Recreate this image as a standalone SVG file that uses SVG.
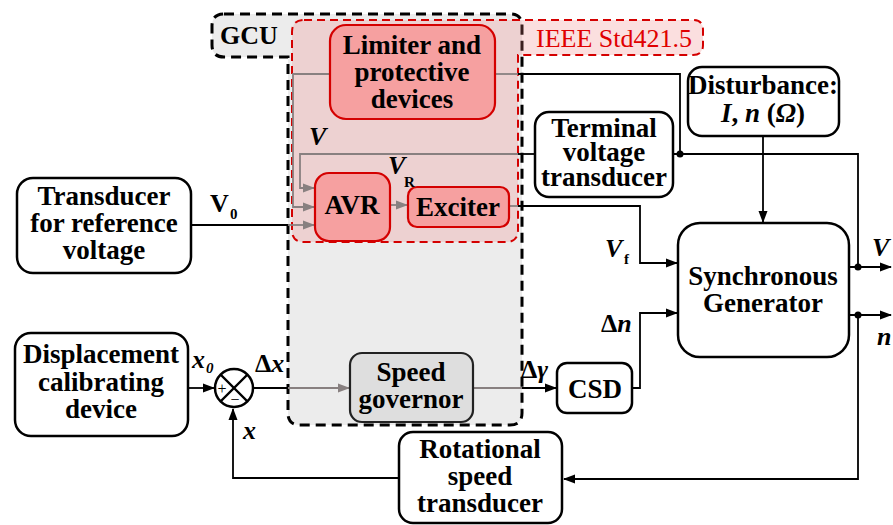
<svg xmlns="http://www.w3.org/2000/svg" width="893" height="525" viewBox="0 0 893 525">
  <style>
    .box { fill: #ffffff; stroke: #000; stroke-width: 2.5; }
    .rbox { fill: #f6a0a0; stroke: #d40000; stroke-width: 2.2; }
    .gbox { fill: #dedede; stroke: #222; stroke-width: 2.2; }
    .t { font-family: "Liberation Serif", "Times New Roman", Tinos, "DejaVu Serif", serif; font-weight: bold; font-size: 27px; fill: #000; text-anchor: middle; }
    .lab { font-family: "Liberation Serif", "Times New Roman", Tinos, "DejaVu Serif", serif; font-weight: bold; font-size: 26px; fill: #000; }
    .it { font-style: italic; }
    .sub { font-size: 15px; }
    .w { fill: none; stroke: #000; stroke-width: 1.8; }
    .g { fill: none; stroke: #888080; stroke-width: 1.8; }
  </style>
  <defs>
    <marker id="ab" markerUnits="userSpaceOnUse" markerWidth="12" markerHeight="10" refX="11" refY="5" orient="auto">
      <path d="M0,0.5 L12,5 L0,9.5 Z" fill="#000"/>
    </marker>
    <marker id="ag" markerUnits="userSpaceOnUse" markerWidth="12" markerHeight="10" refX="11" refY="5" orient="auto">
      <path d="M0,0.5 L12,5 L0,9.5 Z" fill="#888080"/>
    </marker>
  </defs>

  <!-- GCU region -->
  <g id="gcu">
    <path d="M224,14 H510 Q522,14 522,26 V413 Q522,425 510,425 H300 Q288,425 288,413 V57 H224 Q212,57 212,45 V26 Q212,14 224,14 Z" fill="#ececec" stroke="#000" stroke-width="3" stroke-dasharray="10,6"/>
    <text class="lab" x="220" y="44" font-size="27">GCU</text>
  </g>

  <!-- IEEE Std421.5 excitation region -->
  <g id="ieee">
    <path d="M304,20 H693 Q703,20 703,30 V45 Q703,55 693,55 H518 V230 Q518,242 506,242 H304 Q292,242 292,230 V32 Q292,20 304,20 Z" fill="#f08080" fill-opacity="0.25" stroke="#d40000" stroke-width="2" stroke-dasharray="8,5"/>
    <text x="536" y="47" style="font-family: 'Liberation Serif', 'Times New Roman', Tinos, 'DejaVu Serif', serif; font-size: 26px; fill: #e00000;">IEEE Std421.5</text>
  </g>

  <!-- connectors -->
  <g id="connectors">
    <path class="w" d="M191,225 H288"/>
    <path class="g" d="M288,225 H314" marker-end="url(#ag)"/>
    <path class="g" d="M330,74 H293 V207 H314" marker-end="url(#ag)"/>
    <path class="g" d="M518,154 H300 V188 H314" marker-end="url(#ag)"/>
    <path class="w" d="M535,154 H518"/>
    <path class="g" d="M495,74 H518"/>
    <path class="w" d="M518,74 H680 V154"/>
    <path class="w" d="M673,154 H858 V267"/>
    <circle cx="680" cy="154" r="3.5" fill="#000"/>
    <circle cx="858" cy="267" r="3.5" fill="#000"/>
    <path class="w" d="M849,267 H891" marker-end="url(#ab)"/>
    <path class="w" d="M849,315 H891" marker-end="url(#ab)"/>
    <circle cx="858" cy="315" r="3.5" fill="#000"/>
    <path class="w" d="M858,315 V479 H564" marker-end="url(#ab)"/>
    <path class="w" d="M399,478 H233 V409" marker-end="url(#ab)"/>
    <path class="w" d="M188,388 H214" marker-end="url(#ab)"/>
    <path class="w" d="M253,388 H288"/>
    <path class="g" d="M288,388 H349" marker-end="url(#ag)"/>
    <path class="g" d="M473,388 H522"/>
    <path class="w" d="M522,388 H556" marker-end="url(#ab)"/>
    <path class="w" d="M632,388 H640 V313 H677" marker-end="url(#ab)"/>
    <path class="g" d="M509,206 H518"/>
    <path class="w" d="M518,206 H640 V263 H677" marker-end="url(#ab)"/>
    <path class="g" d="M390,205 H407" marker-end="url(#ag)"/>
    <path class="w" d="M763,136 V222" marker-end="url(#ab)"/>
  </g>

  <g id="limiter">
    <rect class="rbox" x="330" y="25" width="165" height="94" rx="16"/>
    <text class="t" x="412" y="54">Limiter and</text>
    <text class="t" x="412" y="81">protective</text>
    <text class="t" x="412" y="108">devices</text>
  </g>

  <g id="avr">
    <rect class="rbox" x="315" y="173" width="75" height="68" rx="14"/>
    <text class="t" x="352" y="214">AVR</text>
  </g>

  <g id="exciter">
    <rect class="rbox" x="408" y="187" width="101" height="40" rx="9"/>
    <text class="t" x="458" y="216">Exciter</text>
  </g>

  <g id="ref-transducer">
    <rect class="box" x="17" y="178" width="174" height="95" rx="16"/>
    <text class="t" x="104" y="205">Transducer</text>
    <text class="t" x="104" y="232">for reference</text>
    <text class="t" x="104" y="259">voltage</text>
  </g>

  <g id="terminal-transducer">
    <rect class="box" x="535" y="112" width="138" height="85" rx="14"/>
    <text class="t" x="604" y="137" font-size="26">Terminal</text>
    <text class="t" x="604" y="161" font-size="26">voltage</text>
    <text class="t" x="604" y="186" font-size="26">transducer</text>
  </g>

  <g id="disturbance">
    <rect class="box" x="688" y="67" width="151" height="69" rx="14"/>
    <text class="t" x="763" y="94">Disturbance:</text>
    <text class="t" x="763" y="122"><tspan font-style="italic">I</tspan>, <tspan font-style="italic">n</tspan> (<tspan font-style="italic">Ω</tspan>)</text>
  </g>

  <g id="generator">
    <rect class="box" x="678" y="223" width="171" height="134" rx="22"/>
    <text class="t" x="763" y="285">Synchronous</text>
    <text class="t" x="763" y="312">Generator</text>
  </g>

  <g id="displacement">
    <rect class="box" x="15" y="333" width="173" height="103" rx="16"/>
    <text class="t" x="101" y="363">Displacement</text>
    <text class="t" x="101" y="391">calibrating</text>
    <text class="t" x="101" y="418">device</text>
  </g>

  <g id="sum">
    <circle cx="234" cy="388" r="19" fill="#fff" stroke="#000" stroke-width="2.5"/>
    <path d="M220.6,374.6 L247.4,401.4 M247.4,374.6 L220.6,401.4" stroke="#000" stroke-width="2.2"/>
    <text x="222" y="394" style="font-family: 'Liberation Serif', Tinos, 'DejaVu Serif', serif; font-size: 16px;" text-anchor="middle">+</text>
    <text x="235" y="405" style="font-family: 'Liberation Serif', Tinos, 'DejaVu Serif', serif; font-size: 16px;" text-anchor="middle">−</text>
  </g>

  <g id="speed-governor">
    <rect class="gbox" x="350" y="353" width="123" height="69" rx="12"/>
    <text class="t" x="411" y="381" font-size="26">Speed</text>
    <text class="t" x="411" y="408" font-size="26">governor</text>
  </g>

  <g id="csd">
    <rect class="box" x="557" y="363" width="75" height="50" rx="10"/>
    <text class="t" x="595" y="398">CSD</text>
  </g>

  <g id="rotational-transducer">
    <rect class="box" x="399" y="432" width="163" height="91" rx="14"/>
    <text class="t" x="480" y="458">Rotational</text>
    <text class="t" x="480" y="485">speed</text>
    <text class="t" x="480" y="512">transducer</text>
  </g>

  <!-- signal labels -->
  <g id="labels">
    <text class="lab it" x="309" y="145">V</text>
    <text class="lab it" x="388" y="174">V</text>
    <text class="lab sub" x="404" y="187">R</text>
    <text class="lab" x="210" y="212">V</text>
    <text class="lab sub" x="230" y="219">0</text>
    <text class="lab it" x="605" y="257">V</text>
    <text class="lab sub" x="624" y="264">f</text>
    <text class="lab" x="601" y="332">Δ<tspan font-style="italic">n</tspan></text>
    <text class="lab" x="521" y="378">Δ<tspan font-style="italic">γ</tspan></text>
    <text class="lab it" x="192" y="368">x</text>
    <text class="lab it sub" x="206" y="373">0</text>
    <text class="lab" x="255" y="372">Δ<tspan font-style="italic">x</tspan></text>
    <text class="lab it" x="243" y="439">x</text>
    <text class="lab it" x="872" y="256">V</text>
    <text class="lab it" x="877" y="345">n</text>
  </g>
</svg>
